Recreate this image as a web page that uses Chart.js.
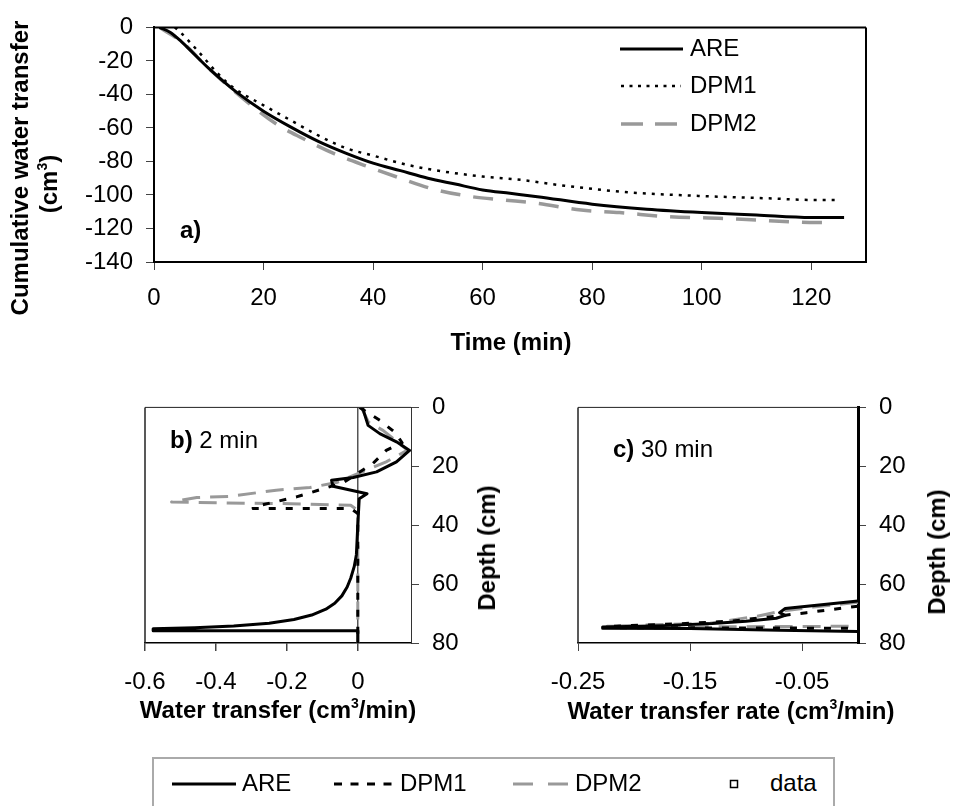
<!DOCTYPE html>
<html>
<head>
<meta charset="utf-8">
<title>Water transfer</title>
<script src="https://cdn.jsdelivr.net/npm/chart.js@4.4.1/dist/chart.umd.min.js"></script>
<style>
    body { margin: 0; background: #fff; }
    #page { position: relative; width: 955px; height: 806px; overflow: hidden;
            font-family: "Liberation Sans", Arial, sans-serif; color: #000; }
    canvas { position: absolute; }
    .lbl { position: absolute; font-size: 24px; line-height: 1; white-space: nowrap;
           transform: translate(-50%, -50%); }
    .b { font-weight: bold; }
    .rot { transform: translate(-50%, -50%) rotate(-90deg); }
    .lft { transform: translate(0, -50%); }
    sup { font-size: 14px; line-height: 0; vertical-align: 10px; }
    svg { position: absolute; overflow: visible; }
    #legendBox { position: absolute; left: 152px; top: 757px; width: 679px; height: 70px;
                 border: 2px solid #aaa; }
</style>
</head>
<body>
<div id="page">
    <canvas id="chartA" width="955" height="360" style="left:0;top:0"></canvas>
    <canvas id="chartB" width="520" height="340" style="left:0;top:380px"></canvas>
    <canvas id="chartC" width="435" height="340" style="left:520px;top:380px"></canvas>

    <!-- panel a texts -->
    <div class="lbl b rot" style="left:20px;top:168px">Cumulative water transfer</div>
    <div class="lbl b rot" style="left:49px;top:184px">(cm<sup>3</sup>)</div>
    <div class="lbl b" style="left:511px;top:342px">Time (min)</div>
    <div class="lbl b lft" style="left:180px;top:230px">a)</div>

    <!-- panel a legend -->
    <svg style="left:0;top:0" width="1" height="1">
        <line x1="620" y1="49" x2="683" y2="49" stroke="#000" stroke-width="3"/>
        <line x1="621" y1="86" x2="681" y2="86" stroke="#000" stroke-width="2.5" stroke-dasharray="3 5.5"/>
        <line x1="621" y1="124" x2="678" y2="124" stroke="#999" stroke-width="3.5" stroke-dasharray="22 12"/>
    </svg>
    <div class="lbl lft" style="left:690px;top:48px">ARE</div>
    <div class="lbl lft" style="left:690px;top:85px">DPM1</div>
    <div class="lbl lft" style="left:690px;top:123px">DPM2</div>

    <!-- panel b texts -->
    <div class="lbl lft" style="left:170px;top:440px"><span class="b">b)</span> 2 min</div>
    <div class="lbl b rot" style="left:487px;top:548px">Depth (cm)</div>
    <div class="lbl b" style="left:278px;top:710px">Water transfer (cm<sup>3</sup>/min)</div>

    <!-- panel c texts -->
    <div class="lbl lft" style="left:613px;top:449px"><span class="b">c)</span> 30 min</div>
    <div class="lbl b rot" style="left:937px;top:552px">Depth (cm)</div>
    <div class="lbl b" style="left:731px;top:711px">Water transfer rate (cm<sup>3</sup>/min)</div>

    <!-- bottom legend -->
    <div id="legendBox"></div>
    <svg style="left:0;top:0" width="1" height="1">
        <line x1="172" y1="784" x2="236" y2="784" stroke="#000" stroke-width="3"/>
        <line x1="334" y1="784" x2="397" y2="784" stroke="#000" stroke-width="3" stroke-dasharray="8 8.5"/>
        <line x1="513" y1="784" x2="568" y2="784" stroke="#999" stroke-width="3" stroke-dasharray="20 15"/>
        <rect x="730.5" y="780.5" width="7" height="7" fill="none" stroke="#000" stroke-width="1.5"/>
    </svg>
    <div class="lbl lft" style="left:242px;top:783px">ARE</div>
    <div class="lbl lft" style="left:400px;top:783px">DPM1</div>
    <div class="lbl lft" style="left:575px;top:783px">DPM2</div>
    <div class="lbl lft" style="left:770px;top:783px">data</div>
</div>

<script>
// ---- panel a: cumulative water transfer vs time ----
const aTimeARE = [1, 3, 5, 10, 15, 20, 25, 30, 35, 40, 45, 50, 55, 60, 65, 70, 80, 90, 100, 110, 120, 126];
const aCumARE = [0, -3, -8.5, -24.5, -38.5, -50, -59.5, -68, -75, -81, -85.5, -90, -93.5, -97, -99, -101, -105.5, -108.5, -110.5, -112, -113.5, -113.5];
const aTimeDPM1 = [3.8, 5, 8.4, 11.5, 14.5, 20, 25, 30, 35, 40, 45, 50, 60, 67, 75, 87, 99, 112, 121, 125];
const aCumDPM1 = [0, -3.5, -15.5, -27, -36, -46.5, -55.5, -64.5, -72, -76.5, -81, -84.5, -89, -91, -94.5, -98.5, -100.5, -102, -103, -103];
const aTimeDPM2 = [1, 5, 10, 17, 22.5, 27, 33, 39, 45, 51, 58, 64, 70, 78, 85, 94, 104, 110, 121, 124];
const aCumDPM2 = [0, -8.5, -24.5, -44.5, -58, -66, -75.5, -83, -90, -96.5, -101, -103, -105, -109, -110.5, -113, -114, -115, -116.5, -116.5];
const aXTicks = [0, 20, 40, 60, 80, 100, 120];
const aYTicks = [0, -20, -40, -60, -80, -100, -120, -140];

// ---- panel b: water transfer profile at 2 min ----
const bAREx = [0.013, 0.029, 0.062, 0.109, 0.146, 0.109, 0.053, -0.013, -0.074, -0.07, 0.026, 0.004, 0.0, -0.004, -0.01, -0.02, -0.03, -0.045, -0.065, -0.09, -0.13, -0.18, -0.25, -0.35, -0.46, -0.577, -0.577, 0, 0];
const bAREdepth = [0, 6.1, 8.9, 11.7, 14.6, 18.5, 21.9, 23.8, 24.7, 26.8, 29.3, 31, 40, 50, 54, 58, 61, 64, 66.5, 68.5, 70.5, 72, 73.3, 74.2, 74.8, 75.2, 75.8, 75.8, 80];
const bDPM1x = [0.005, 0.062, 0.104, 0.125, 0.08, 0.043, -0.04, -0.173, -0.295, -0.295, -0.02, 0, 0];
const bDPM1depth = [0, 4.4, 8.4, 12, 14.6, 19, 25.5, 30.4, 33.8, 34.3, 34.3, 36, 80];
const bDPM2x = [0.01, 0.03, 0.071, 0.14, 0.08, 0.0, -0.06, -0.135, -0.23, -0.36, -0.454, -0.525, -0.4, -0.19, -0.02, 0, 0];
const bDPM2depth = [0, 5, 7.8, 14.5, 18.5, 22.5, 25.5, 27.2, 28.1, 30.2, 30.6, 32.1, 32.4, 32.7, 33.2, 35, 80];
const bXTicks = [-0.6, -0.4, -0.2, 0];

// ---- panel c: water transfer rate profile at 30 min ----
const cAREx = [0, -0.065, -0.07, -0.065, -0.073, -0.1, -0.13, -0.174, -0.228, -0.228, -0.15, -0.07, 0];
const cAREdepth = [65.7, 68.3, 69.7, 70.6, 71.6, 72.6, 73.4, 74.1, 74.6, 75, 75.1, 75.7, 76.1];
const cDPM1x = [0, -0.046, -0.07, -0.114, -0.16, -0.219, -0.219, -0.1, 0];
const cDPM1depth = [67.5, 69.7, 70.8, 72.6, 73.5, 74.3, 74.8, 74.9, 75];
const cDPM2x = [0, -0.04, -0.07, -0.09, -0.132, -0.224, -0.15, -0.05, 0];
const cDPM2depth = [66.2, 67.8, 69.3, 70.9, 73.3, 74.3, 74.5, 74.4, 74.3];
const cXTicks = [-0.25, -0.15, -0.05];

const depthTicks = [0, 20, 40, 60, 80];

const FONT = { family: '"Liberation Sans", Arial, sans-serif', size: 24 };
const GREY = '#999';

function pts(xs, ys) {
    return xs.map((x, i) => ({ x: x, y: ys[i] }));
}

// strokes the sides of the plot area that have no axis line
const framePlugin = {
    id: 'frame',
    afterDatasetsDraw(chart, args, opts) {
        const ctx = chart.ctx;
        const a = chart.chartArea;
        ctx.save();
        ctx.strokeStyle = opts.color || '#000';
        const side = (w, x1, y1, x2, y2) => {
            if (!w) return;
            ctx.lineWidth = w;
            ctx.beginPath();
            ctx.moveTo(x1, y1);
            ctx.lineTo(x2, y2);
            ctx.stroke();
        };
        side(opts.top, a.left, a.top, a.right, a.top);
        side(opts.right, a.right, a.top, a.right, a.bottom);
        side(opts.left, a.left, a.top, a.left, a.bottom);
        side(opts.bottom, a.left, a.bottom, a.right, a.bottom);
        ctx.restore();
    }
};

function lineSet(label, data, color, width, dash, smooth) {
    return {
        label: label,
        data: data,
        showLine: true,
        borderColor: color,
        borderWidth: width,
        borderDash: dash,
        borderJoinStyle: 'round',
        pointRadius: 0,
        tension: smooth ? 0.4 : 0,
        cubicInterpolationMode: smooth ? 'monotone' : 'default',
        fill: false
    };
}

function fixedTicks(values) {
    return scale => { scale.ticks = values.map(v => ({ value: v })); };
}

const common = {
    responsive: false,
    animation: false,
    plugins: { legend: { display: false }, tooltip: { enabled: false } }
};

// panel a
new Chart(document.getElementById('chartA'), {
    type: 'scatter',
    data: {
        datasets: [
            lineSet('ARE', pts(aTimeARE, aCumARE), '#000', 3, [], true),
            lineSet('DPM1', pts(aTimeDPM1, aCumDPM1), '#000', 2.5, [3, 6], true),
            lineSet('DPM2', pts(aTimeDPM2, aCumDPM2), GREY, 3.5, [20, 13], true)
        ]
    },
    options: {
        ...common,
        layout: { padding: { left: 0, top: 19, right: 89, bottom: 0 } },
        plugins: { ...common.plugins, frame: { top: 2, right: 2 } },
        scales: {
            x: {
                type: 'linear', min: 0, max: 130,
                afterBuildTicks: fixedTicks(aXTicks),
                afterFit: s => { s.height = 98; },
                border: { color: '#000', width: 2 },
                grid: { drawOnChartArea: false, tickLength: 8, tickColor: '#444', tickWidth: 1 },
                ticks: { font: FONT, color: '#000', padding: 14, maxRotation: 0, autoSkip: false, callback: v => String(v) }
            },
            y: {
                type: 'linear', min: -140, max: 0,
                afterBuildTicks: fixedTicks(aYTicks),
                afterFit: s => { s.width = 154; },
                border: { color: '#000', width: 2 },
                grid: { drawOnChartArea: false, tickLength: 8, tickColor: '#444', tickWidth: 1 },
                ticks: { font: FONT, color: '#000', padding: 13, autoSkip: false, callback: v => String(v) }
            }
        }
    },
    plugins: [framePlugin]
});

// panel b
new Chart(document.getElementById('chartB'), {
    type: 'scatter',
    data: {
        datasets: [
            lineSet('ARE', pts(bAREx, bAREdepth), '#000', 3, []),
            lineSet('DPM1', pts(bDPM1x, bDPM1depth), '#000', 3, [7, 10]),
            lineSet('DPM2', pts(bDPM2x, bDPM2depth), GREY, 3, [18, 10])
        ]
    },
    options: {
        ...common,
        layout: { padding: { left: 145, top: 27, right: 0, bottom: 0 } },
        plugins: { ...common.plugins, frame: { top: 1, left: 1.5, color: '#222' } },
        scales: {
            x: {
                type: 'linear', min: -0.6, max: 0.15,
                afterBuildTicks: fixedTicks(bXTicks),
                afterFit: s => { s.height = 77; },
                border: { color: '#000', width: 1.5 },
                grid: {
                    drawOnChartArea: true, tickLength: 8, tickColor: '#444',
                    color: c => (c.tick && c.tick.value === 0 ? '#555' : 'rgba(0,0,0,0)'),
                    lineWidth: 1.5
                },
                ticks: { font: FONT, color: '#000', padding: 17, maxRotation: 0, autoSkip: false, callback: v => String(v) }
            },
            y: {
                type: 'linear', position: 'right', reverse: true, min: 0, max: 80,
                afterBuildTicks: fixedTicks(depthTicks),
                afterFit: s => { s.width = 109; },
                border: { color: '#333', width: 1 },
                grid: { drawOnChartArea: false, tickLength: 8, tickColor: '#444' },
                ticks: { font: FONT, color: '#000', padding: 13, autoSkip: false, callback: v => String(v) }
            }
        }
    },
    plugins: [framePlugin]
});

// panel c
new Chart(document.getElementById('chartC'), {
    type: 'scatter',
    data: {
        datasets: [
            lineSet('ARE', pts(cAREx, cAREdepth), '#000', 3, []),
            lineSet('DPM1', pts(cDPM1x, cDPM1depth), '#000', 3, [7, 10]),
            lineSet('DPM2', pts(cDPM2x, cDPM2depth), GREY, 3, [18, 10])
        ]
    },
    options: {
        ...common,
        layout: { padding: { left: 58, top: 27, right: 0, bottom: 0 } },
        plugins: { ...common.plugins, frame: { top: 1, left: 1.5, color: '#222' } },
        scales: {
            x: {
                type: 'linear', min: -0.25, max: 0,
                afterBuildTicks: fixedTicks(cXTicks),
                afterFit: s => { s.height = 77; },
                border: { color: '#000', width: 1.5 },
                grid: { drawOnChartArea: false, tickLength: 8, tickColor: '#444' },
                ticks: { font: FONT, color: '#000', padding: 17, maxRotation: 0, autoSkip: false, callback: v => String(v) }
            },
            y: {
                type: 'linear', position: 'right', reverse: true, min: 0, max: 80,
                afterBuildTicks: fixedTicks(depthTicks),
                afterFit: s => { s.width = 97; },
                border: { color: '#000', width: 3 },
                grid: { drawOnChartArea: false, tickLength: 8, tickColor: '#444' },
                ticks: { font: FONT, color: '#000', padding: 13, autoSkip: false, callback: v => String(v) }
            }
        }
    },
    plugins: [framePlugin]
});
</script>
</body>
</html>
